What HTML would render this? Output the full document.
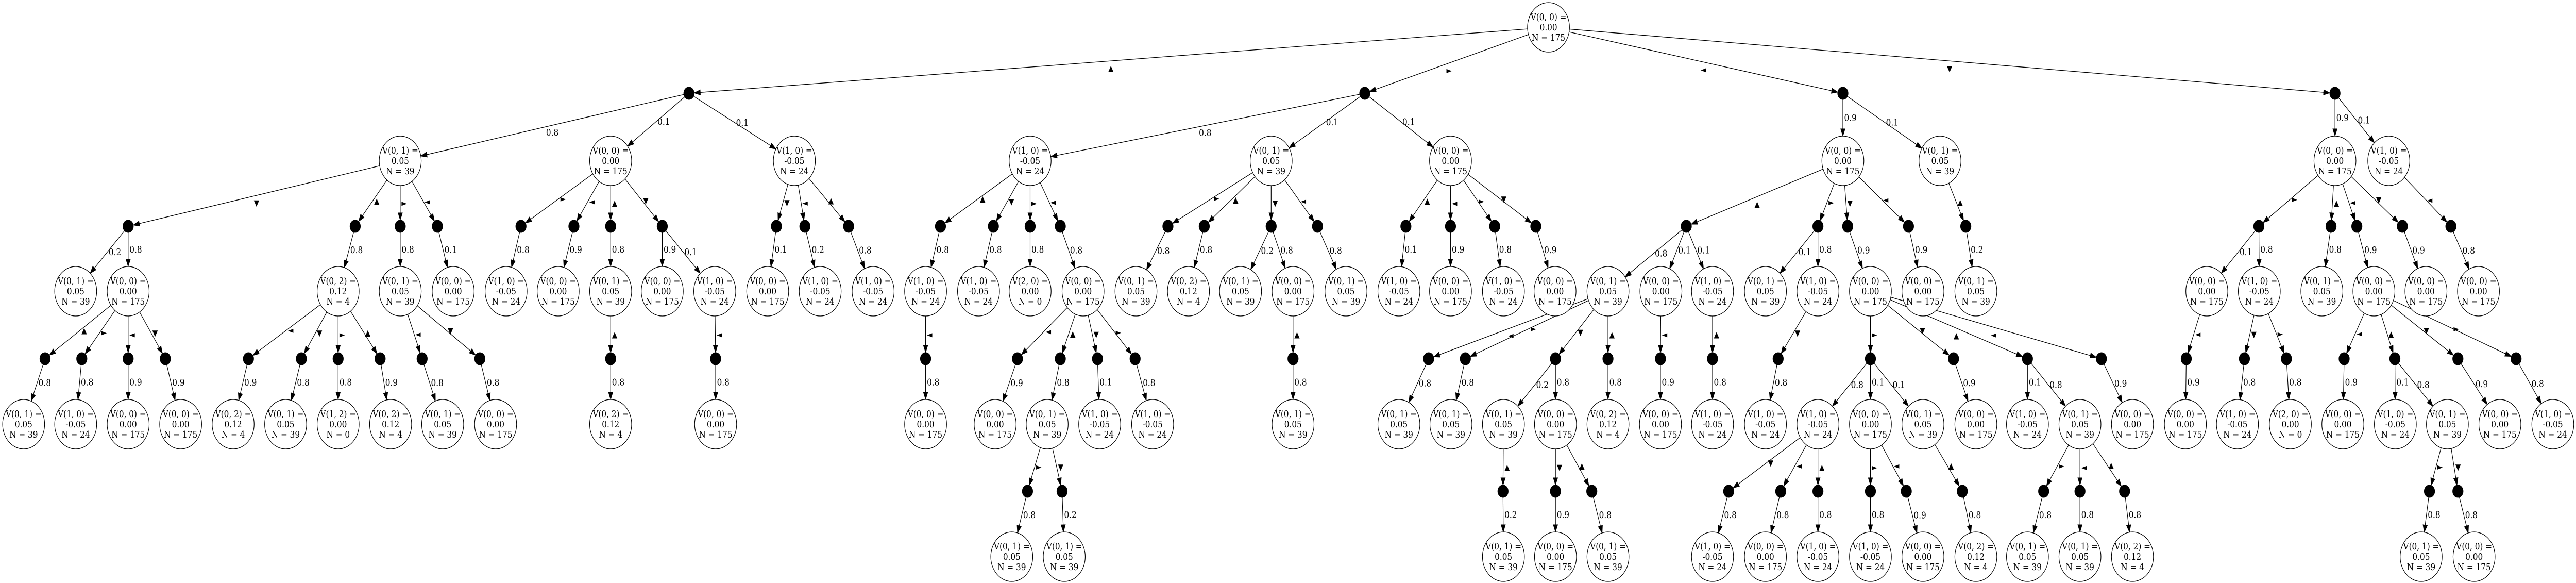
<!DOCTYPE html>
<html><head><meta charset="utf-8"><style>
html,body{margin:0;padding:0;background:#fff;overflow:hidden;width:100%;height:100%;}
svg{display:block;width:100vw;height:100vh;}
.n{font-family:"DejaVu Serif","Liberation Serif",serif;font-size:18px;}
.s{font-family:"DejaVu Sans","Liberation Sans",sans-serif;font-size:16px;}
</style></head><body>
<svg id="g" xmlns="http://www.w3.org/2000/svg" viewBox="0 0 5889 1131" preserveAspectRatio="none"></svg>
<script>
const L00="V(0, 0) =|0.00|N = 175";
const L01="V(0, 1) =|0.05|N = 39";
const L10="V(1, 0) =|-0.05|N = 24";
const L02="V(0, 2) =|0.12|N = 4";
const L20="V(2, 0) =|0.00|N = 0";
const L12="V(1, 2) =|0.00|N = 0";
const T=[3540,L00,[
 [1575,'▲',[
   ['0.8',[915,L01,[
     [293,'▼',[['0.2',[173,L01]],['0.8',[293,L00,[
        [103,'▲',[['0.8',[54,L01]]]],
        [187,'►',[['0.8',[173,L10]]]],
        [293,'◄',[['0.9',[293,L00]]]],
        [378,'▼',[['0.9',[413,L00]]]]]]]]],
     [812,'▲',[['0.8',[773,L02,[
        [568,'◄',[['0.9',[533,L02]]]],
        [689,'▼',[['0.8',[653,L01]]]],
        [773,'►',[['0.8',[773,L12]]]],
        [869,'▲',[['0.9',[893,L02]]]]]]]]],
     [915,'►',[['0.8',[915,L01,[
        [965,'◄',[['0.8',[1012,L01]]]],
        [1097,'▼',[['0.8',[1133,L00]]]]]]]]],
     [1000,'◄',[['0.1',[1036,L00]]]]]]],
   ['0.1',[1396,L00,[
     [1191,'►',[['0.8',[1157,L10]]]],
     [1312,'◄',[['0.9',[1276,L00]]]],
     [1396,'▲',[['0.8',[1396,L01,[[1396,'▲',[['0.8',[1396,L02]]]]]]]]],
     [1514,'▼',[['0.9',[1514,L00]],['0.1',[1634,L10,[[1636,'◄',[['0.8',[1636,L00]]]]]]]]]]]],
   ['0.1',[1816,L10,[
     [1775,'▼',[['0.1',[1755,L00]]]],
     [1840,'◄',[['0.2',[1875,L10]]]],
     [1940,'▲',[['0.8',[1996,L10]]]]]]]]],
 [3120,'►',[
   ['0.8',[2355,L10,[
     [2150,'▲',[['0.8',[2116,L10,[[2116,'◄',[['0.8',[2116,L00]]]]]]]]],
     [2271,'▼',[['0.8',[2237,L10]]]],
     [2355,'►',[['0.8',[2355,L20]]]],
     [2424,'◄',[['0.8',[2476,L00,[
        [2326,'◄',[['0.9',[2275,L00]]]],
        [2424,'▲',[['0.8',[2394,L01,[
           [2349,'►',[['0.8',[2313,L01]]]],
           [2428,'▼',[['0.2',[2433,L01]]]]]]]]],
        [2509,'▼',[['0.1',[2514,L10]]]],
        [2595,'►',[['0.8',[2635,L10]]]]]]]]]]]],
   ['0.1',[2906,L01,[
     [2670,'►',[['0.8',[2597,L01]]]],
     [2753,'▲',[['0.8',[2717,L02]]]],
     [2906,'▼',[['0.2',[2836,L01]],['0.8',[2956,L00,[[2956,'▲',[['0.8',[2956,L01]]]]]]]]],
     [3012,'◄',[['0.8',[3077,L01]]]]]]],
   ['0.1',[3316,L00,[
     [3214,'▲',[['0.1',[3198,L10]]]],
     [3316,'◄',[['0.9',[3316,L00]]]],
     [3417,'►',[['0.8',[3437,L10]]]],
     [3511,'▼',[['0.9',[3555,L00]]]]]]]]],
 [4213,'◄',[
   ['0.9',[4213,L00,[
     [3855,'▲',[
       ['0.8',[3676,L01,[
         [3266,'◄',[['0.8',[3198,L01]]]],
         [3350,'►',[['0.8',[3317,L01]]]],
         [3556,'▼',[['0.2',[3437,L01,[[3436,'▲',[['0.2',[3437,L01]]]]]]],['0.8',[3556,L00,[
            [3556,'▼',[['0.9',[3556,L00]]]],
            [3639,'▲',[['0.8',[3676,L01]]]]]]]]],
         [3676,'▲',[['0.8',[3676,L02]]]]]]],
       ['0.1',[3797,L00,[[3796,'◄',[['0.9',[3796,L00]]]]]]],
       ['0.1',[3915,L10,[[3915,'▲',[['0.8',[3915,L10]]]]]]]]],
     [4156,'►',[
       ['0.1',[4036,L01]],
       ['0.8',[4156,L10,[[4065,'▼',[['0.8',[4036,L10]]]]]]]]],
     [4224,'▼',[['0.9',[4276,L00,[
        [4276,'►',[
          ['0.8',[4156,L10,[
             [3952,'▼',[['0.8',[3915,L10]]]],
             [4071,'◄',[['0.8',[4036,L00]]]],
             [4156,'▲',[['0.8',[4156,L10]]]]]]],
          ['0.1',[4276,L00,[
             [4276,'►',[['0.8',[4276,L10]]]],
             [4358,'◄',[['0.9',[4396,L00]]]]]]],
          ['0.1',[4396,L01,[[4486,'▲',[['0.8',[4517,L02]]]]]]]]],
        [4466,'▼',[['0.9',[4517,L00]]]],
        [4635,'▲',[
          ['0.1',[4635,L10]],
          ['0.8',[4755,L01,[
             [4672,'►',[['0.8',[4635,L01]]]],
             [4755,'◄',[['0.8',[4755,L01]]]],
             [4857,'▲',[['0.8',[4875,L02]]]]]]]]],
        [4804,'◄',[['0.9',[4875,L00]]]]]]]]],
     [4363,'◄',[['0.9',[4396,L00]]]]]]],
   ['0.1',[4435,L01,[[4494,'▲',[['0.2',[4517,L01]]]]]]]]],
 [5338,'▼',[
   ['0.9',[5338,L00,[
     [5164,'►',[
       ['0.1',[5045,L00,[[4998,'◄',[['0.9',[4996,L00]]]]]]],
       ['0.8',[5165,L10,[
          [5131,'▼',[['0.8',[5115,L10]]]],
          [5227,'►',[['0.8',[5236,L20]]]]]]]]],
     [5329,'▲',[['0.8',[5308,L01]]]],
     [5388,'◄',[['0.9',[5427,L00,[
        [5359,'◄',[['0.9',[5356,L00]]]],
        [5475,'▲',[['0.1',[5476,L10]],['0.8',[5595,L01,[
            [5554,'►',[['0.8',[5535,L01]]]],
            [5619,'▼',[['0.8',[5656,L00]]]]]]]]],
        [5619,'▼',[['0.9',[5715,L00]]]],
        [5752,'►',[['0.8',[5836,L10]]]]]]]]],
     [5492,'▼',[['0.9',[5546,L00]]]]]]],
   ['0.1',[5461,L10,[[5603,'◄',[['0.8',[5666,L00]]]]]]]]]
]];
const R=[53,181,312,439,565,696,823,953,1080];
const NS="http://www.w3.org/2000/svg";
const svg=document.getElementById('g');
const gE=document.createElementNS(NS,'g'), gN=document.createElementNS(NS,'g');
svg.appendChild(gE);svg.appendChild(gN);
function el(p,t,a,txt){const e=document.createElementNS(NS,t);for(const k in a)e.setAttribute(k,a[k]);if(txt!==undefined)e.textContent=txt;p.appendChild(e);return e;}
function node(x,y,lab){
  el(gN,'ellipse',{cx:x,cy:y,rx:48,ry:48,fill:'#fff',stroke:'#000','stroke-width':1.3});
  const ls=lab.split('|');
  ls.forEach((s,i)=>el(gN,'text',{x:x,y:y-14+i*20,'text-anchor':'middle','class':'n'},s));
}
function dot(x,y){el(gN,'ellipse',{cx:x,cy:y,rx:12,ry:12,fill:'#000',stroke:'#000'});}
function edge(x1,y1,r1,x2,y2,r2,lab,cls){
  const vx=x2-x1,vy=y2-y1,L=Math.hypot(vx,vy),ux=vx/L,uy=vy/L;
  const sx=x1+ux*r1,sy=y1+uy*r1,tx=x2-ux*r2,ty=y2-uy*r2;
  const al=14,aw=5;
  const bx=tx-ux*al,by=ty-uy*al;
  el(gE,'line',{x1:sx,y1:sy,x2:bx,y2:by,stroke:'#000','stroke-width':1.3});
  el(gE,'polygon',{points:`${tx},${ty} ${bx-uy*aw},${by+ux*aw} ${bx+uy*aw},${by-ux*aw}`,fill:'#000',stroke:'#000'});
  const mx=(sx+tx)/2,my=(sy+ty)/2;
  if(Math.abs(vx)>Math.abs(vy)*2.5){
    el(gE,'text',{x:mx,y:my+20,'text-anchor':'middle','class':cls},lab);
  }else{
    el(gE,'text',{x:mx+3,y:my+6,'text-anchor':'start','class':cls},lab);
  }
}
function draw(n,d){
  const [x,lab,acts]=n;const y=R[2*d];
  node(x,y,lab);
  if(!acts)return;
  for(const [dx,sym,outs] of acts){
    const dy=R[2*d+1];
    dot(dx,dy);
    edge(x,y,48,dx,dy,12,sym,'s');
    for(const [p,ch] of outs){
      edge(dx,dy,12,ch[0],R[2*d+2],48,p,'n');
      draw(ch,d+1);
    }
  }
}
draw(T,0);
</script>
</body></html>
